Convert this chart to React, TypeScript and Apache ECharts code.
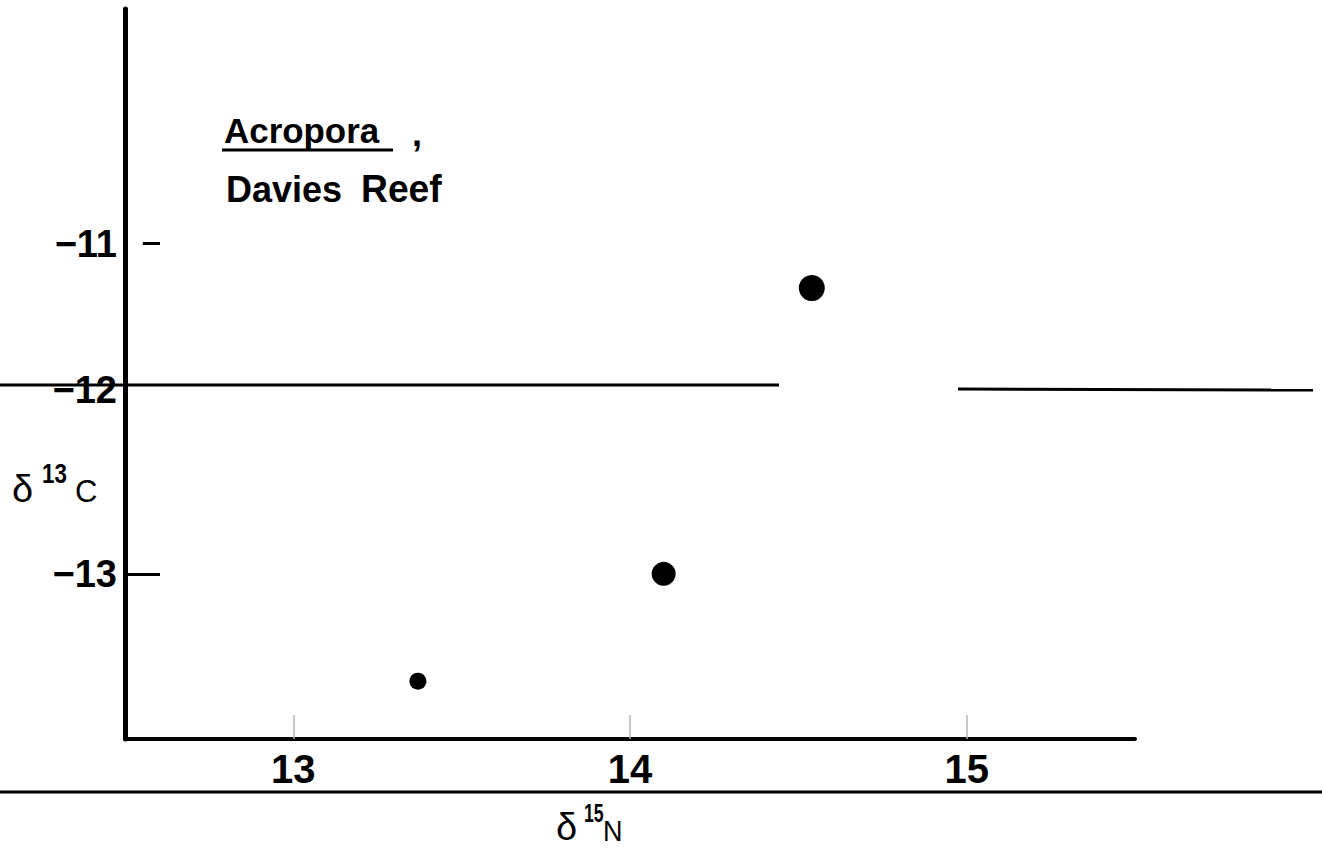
import React, { useEffect, useRef } from 'react';
import * as echarts from 'echarts';

const xValues = [14.54, 14.1, 13.37];
const yValues = [-11.27, -13.0, -13.65];
const pointSizes = [26, 24, 17];
const xTicks = [13, 14, 15];
const yLabelTicks = [-13, -12, -11];
const yMarkTicks = [-13];

const NARROW = '"Liberation Sans Narrow", "Liberation Sans", Arial, sans-serif';
const SANS = '"Liberation Sans", Arial, sans-serif';

export default function App() {
  const ref = useRef<HTMLDivElement>(null);
  useEffect(() => {
    const chart = echarts.init(ref.current!, null, { renderer: 'svg' });
    const txt = (x: number, y: number, text: string, size: number, family = SANS, weight = 'bold', sx = 1) => ({
      type: 'text',
      x,
      y,
      scaleX: sx,
      silent: true,
      style: { text, fontSize: size, fontFamily: family, fontWeight: weight, fill: '#000', verticalAlign: 'middle', align: 'left' },
    });
    const line = (x1: number, y1: number, x2: number, y2: number, w: number) => ({
      type: 'line',
      silent: true,
      shape: { x1, y1, x2, y2 },
      style: { stroke: '#000', lineWidth: w },
    });
    chart.setOption({
      animation: false,
      backgroundColor: '#fff',
      grid: { left: 125, top: 9, width: 1010, height: 730 },
      xAxis: {
        type: 'value',
        min: 12.5,
        max: 15.5,
        interval: 0.5,
        splitLine: { show: false },
        axisLine: { show: true, lineStyle: { color: '#000', width: 4 } },
        axisTick: { show: true, inside: true, length: 24, customValues: xTicks, lineStyle: { color: '#b5b5b5', width: 1.5 } },
        axisLabel: {
          customValues: xTicks,
          margin: 10,
          fontSize: 40,
          fontWeight: 'bold',
          fontFamily: NARROW,
          color: '#000',
        },
      },
      yAxis: {
        type: 'value',
        min: -14,
        max: -9.58,
        interval: 1,
        splitLine: { show: false },
        axisLine: { show: true, onZero: false, lineStyle: { color: '#000', width: 5 } },
        axisTick: { show: true, inside: true, length: 35, customValues: yMarkTicks, lineStyle: { color: '#000', width: 3 } },
        axisLabel: {
          customValues: yLabelTicks,
          margin: 8,
          color: '#000',
          formatter: (v: number) => (v === -12 ? '{up|−12}' : '{n|−' + Math.abs(v) + '}'),
          rich: {
            n: { fontSize: 38, fontWeight: 'bold', fontFamily: NARROW, color: '#000' },
            up: { fontSize: 38, fontWeight: 'bold', fontFamily: NARROW, color: '#000', padding: [0, 0, 38, 0] },
          },
        },
      },
      series: [
        {
          type: 'scatter',
          data: xValues.map((x, i) => ({ value: [x, yValues[i]], symbolSize: pointSizes[i] })),
          itemStyle: { color: '#000', opacity: 1 },
          markLine: {
            silent: true,
            symbol: 'none',
            label: { show: false },
            lineStyle: { color: '#000', width: 3, type: 'solid' },
            data: [[{ coord: [12.553, -11] }, { coord: [12.604, -11] }]],
          },
        },
      ],
      graphic: [
        line(0, 385, 779, 385, 3),
        line(958, 389, 1313, 390, 3),
        line(0, 792, 1322, 792, 3),
        txt(224, 131, 'Acropora', 36, SANS, 'bold', 0.97),
        line(222, 150, 393, 150, 3),
        txt(412, 133, ',', 36),
        txt(226, 189, 'Davies', 36),
        txt(361, 189, 'Reef', 38, SANS, 'bold', 0.98),
        txt(12, 489, 'δ', 38, SANS, 'normal'),
        txt(42, 473, '13', 28, SANS, 'bold', 0.8),
        txt(75, 491, 'C', 31, SANS, 'normal'),
        txt(556, 827, 'δ', 38, SANS, 'normal'),
        txt(584, 813, '15', 26, SANS, 'bold', 0.68),
        txt(603, 830, 'N', 30, SANS, 'normal', 0.9),
      ],
    });
    return () => chart.dispose();
  }, []);
  return <div ref={ref} style={{ position: 'absolute', left: 0, top: 0, width: 1322, height: 848 }} />;
}
